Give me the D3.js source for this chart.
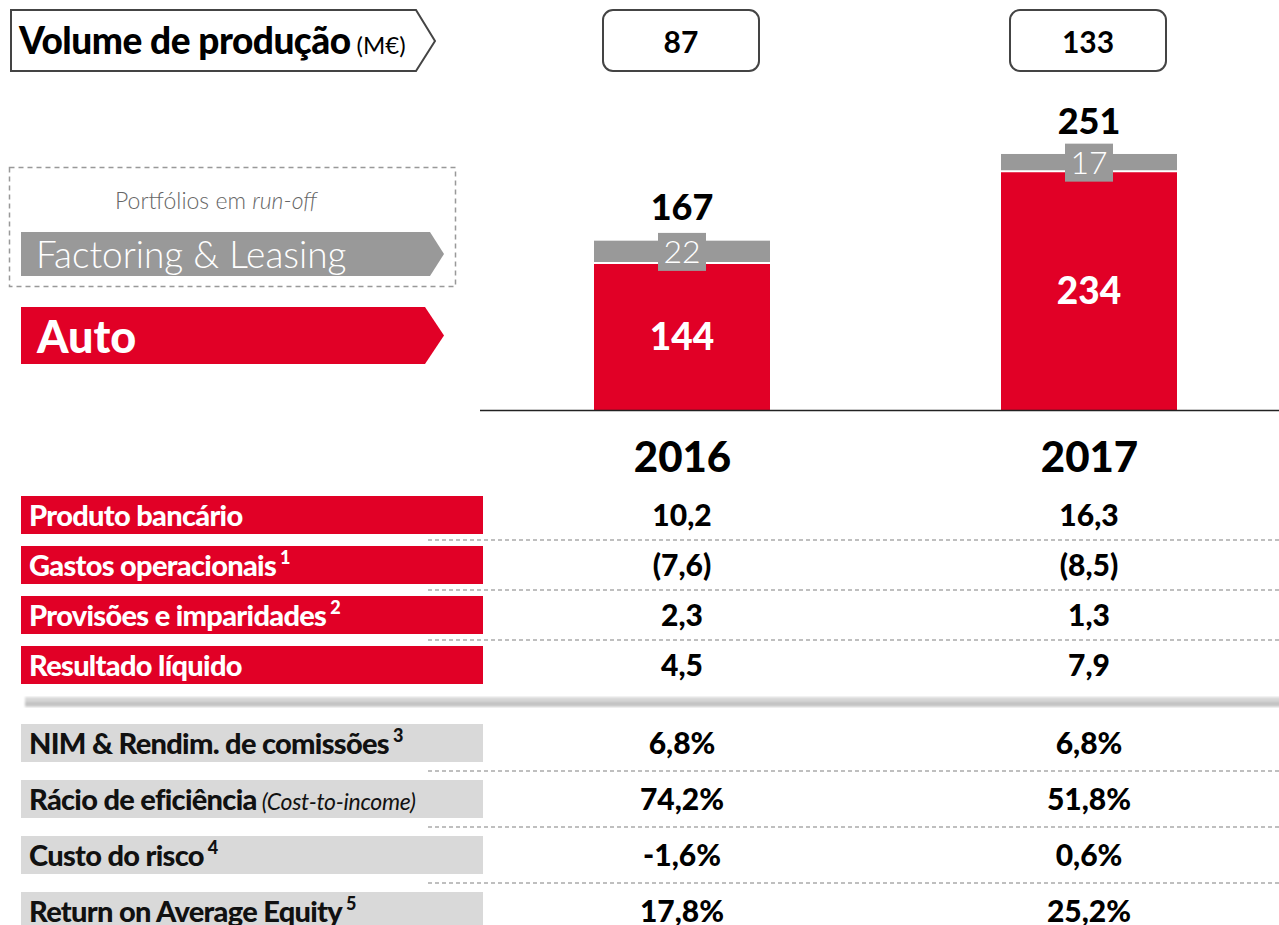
<!DOCTYPE html>
<html>
<head>
<meta charset="utf-8">
<script src="https://cdn.jsdelivr.net/npm/d3@7"></script>
<style>
  body { margin: 0; background: #fff; }
  svg { display: block; font-family: Lato, "Liberation Sans", sans-serif; }
</style>
</head>
<body>
<script>
// data
var years = ["2016", "2017"];
var volumeProducao = [87, 133];
var autoValues = [144, 234];
var factoringValues = [22, 17];
var totals = [167, 251];

var finLabels = ["Produto bancário", "Gastos operacionais", "Provisões e imparidades", "Resultado líquido"];
var finSups = ["", "1", "2", ""];
var fin2016 = ["10,2", "(7,6)", "2,3", "4,5"];
var fin2017 = ["16,3", "(8,5)", "1,3", "7,9"];

var ratioLabels = ["NIM & Rendim. de comissões", "Rácio de eficiência", "Custo do risco", "Return on Average Equity"];
var ratioNotes = ["", "(Cost-to-income)", "", ""];
var ratioSups = ["3", "", "4", "5"];
var ratio2016 = ["6,8%", "74,2%", "-1,6%", "17,8%"];
var ratio2017 = ["6,8%", "51,8%", "0,6%", "25,2%"];

// set up dimensions
var width = 1279,
    height = 925;

var red = "#e10026",
    grey = "#999999",
    lightGrey = "#d9d9d9";

var svg = d3.select("body")
            .append("svg")
            .attr("width", width)
            .attr("height", height);

var defs = svg.append("defs");
var grad = defs.append("linearGradient")
    .attr("id", "sepGrad")
    .attr("x1", 0).attr("y1", 0).attr("x2", 0).attr("y2", 1);
grad.append("stop").attr("offset", "0%").attr("stop-color", "#dadada");
grad.append("stop").attr("offset", "45%").attr("stop-color", "#d4d4d4");
grad.append("stop").attr("offset", "60%").attr("stop-color", "#bdbdbd");
grad.append("stop").attr("offset", "100%").attr("stop-color", "#d0d0d0");
defs.append("filter").attr("id", "blur")
    .append("feGaussianBlur").attr("stdDeviation", 1);

// scales
var x = d3.scalePoint()
    .domain(years)
    .range([682, 1089]);
var barWidth = 176;

var y = d3.scaleLinear()
    .domain([0, 250])
    .range([410, 155]);

// header arrow
var header = svg.append("g");
header.append("path")
    .attr("d", "M11,10 L416,10 L435,41 L416,71 L11,71 Z")
    .attr("fill", "#fff")
    .attr("stroke", "#444")
    .attr("stroke-width", 2);
var ht = header.append("text")
    .attr("x", 19)
    .attr("y", 54)
    .attr("fill", "#000");
ht.append("tspan")
    .attr("font-size", 37)
    .attr("font-weight", 900)
    .attr("letter-spacing", -0.5)
    .text("Volume de produção");
ht.append("tspan")
    .attr("font-size", 24)
    .attr("dx", 6)
    .text("(M€)");

// volume boxes
var vol = svg.append("g").selectAll("g")
    .data(years)
    .enter()
    .append("g");
vol.append("rect")
    .attr("x", function(d) { return x(d) - 79; })
    .attr("y", 10)
    .attr("width", 156)
    .attr("height", 61)
    .attr("rx", 10)
    .attr("fill", "#fff")
    .attr("stroke", "#444")
    .attr("stroke-width", 2);
vol.append("text")
    .attr("x", function(d) { return x(d) - 1; })
    .attr("y", 53)
    .attr("text-anchor", "middle")
    .attr("font-size", 30)
    .attr("font-weight", 700)
    .text(function(d, i) { return volumeProducao[i]; });

// legend
var legend = svg.append("g");
legend.append("rect")
    .attr("x", 9.5).attr("y", 167.5)
    .attr("width", 446).attr("height", 119)
    .attr("fill", "none")
    .attr("stroke", "#999")
    .attr("stroke-width", 1.5)
    .attr("stroke-dasharray", "5,4");
var lt = legend.append("text")
    .attr("x", 216).attr("y", 209)
    .attr("text-anchor", "middle")
    .attr("font-size", 23)
    .attr("font-weight", 300)
    .attr("fill", "#666");
lt.append("tspan").text("Portfólios em ");
lt.append("tspan").attr("font-style", "italic").text("run-off");

legend.append("path")
    .attr("d", "M21,232 L430,232 L444,254 L430,276 L21,276 Z")
    .attr("fill", grey);
legend.append("text")
    .attr("x", 36).attr("y", 268)
    .attr("font-size", 37)
    .attr("font-weight", 300)
    .attr("fill", "#fff")
    .text("Factoring & Leasing");

legend.append("path")
    .attr("d", "M21,307 L425,307 L444,335.5 L425,364 L21,364 Z")
    .attr("fill", red);
legend.append("text")
    .attr("x", 37).attr("y", 353)
    .attr("font-size", 45)
    .attr("font-weight", 900)
    .attr("fill", "#fff")
    .text("Auto");

// stacked bars
var barData = years.map(function(yr, i) {
  return { year: yr, auto: autoValues[i], factoring: factoringValues[i], total: totals[i] };
});
var stack = d3.stack().keys(["auto", "factoring"]);
var series = stack(barData);
var colors = { auto: red, factoring: grey };

var bars = svg.append("g");
bars.selectAll("g")
    .data(series)
    .enter()
    .append("g")
    .attr("fill", function(s) { return colors[s.key]; })
    .selectAll("rect")
    .data(function(s) { return s; })
    .enter()
    .append("rect")
    .attr("x", function(d) { return x(d.data.year) - barWidth / 2; })
    .attr("y", function(d) { return y(d[1]); })
    .attr("width", barWidth)
    .attr("height", function(d) { return y(d[0]) - y(d[1]); });

// white split between segments
bars.selectAll(".split")
    .data(series[0])
    .enter()
    .append("line")
    .attr("x1", function(d) { return x(d.data.year) - barWidth / 2; })
    .attr("x2", function(d) { return x(d.data.year) + barWidth / 2; })
    .attr("y1", function(d) { return y(d[1]); })
    .attr("y2", function(d) { return y(d[1]); })
    .attr("stroke", "#fff")
    .attr("stroke-width", 2);

// factoring labels in grey box
var fl = bars.selectAll(".flab")
    .data(series[1])
    .enter()
    .append("g");
fl.append("rect")
    .attr("x", function(d) { return x(d.data.year) - 24; })
    .attr("y", function(d) { return (y(d[0]) + y(d[1])) / 2 - 19; })
    .attr("width", 48)
    .attr("height", 38)
    .attr("fill", grey);
fl.append("text")
    .attr("x", function(d) { return x(d.data.year); })
    .attr("y", function(d) { return (y(d[0]) + y(d[1])) / 2 + 11; })
    .attr("text-anchor", "middle")
    .attr("font-size", 32)
    .attr("font-weight", 300)
    .attr("fill", "#fff")
    .text(function(d) { return d.data.factoring; });

// auto labels
bars.selectAll(".alab")
    .data(series[0])
    .enter()
    .append("text")
    .attr("x", function(d) { return x(d.data.year); })
    .attr("y", function(d) { return (y(d[0]) + y(d[1])) / 2 + 13; })
    .attr("text-anchor", "middle")
    .attr("font-size", 37)
    .attr("font-weight", 900)
    .attr("fill", "#fff")
    .text(function(d) { return d.data.auto; });

// total labels
bars.selectAll(".tlab")
    .data(barData)
    .enter()
    .append("text")
    .attr("x", function(d) { return x(d.year); })
    .attr("y", function(d) { return y(d.total) - 20; })
    .attr("text-anchor", "middle")
    .attr("font-size", 36)
    .attr("font-weight", 900)
    .attr("fill", "#000")
    .text(function(d) { return d.total; });

// baseline axis
var xAxis = d3.axisBottom(x).tickSize(0).tickPadding(32);
var axisG = svg.append("g")
    .attr("transform", "translate(0," + y(0) + ")")
    .call(xAxis);
axisG.select(".domain")
    .attr("d", "M480,0.5H1279")
    .attr("stroke", "#222")
    .attr("stroke-width", 1.5);
axisG.selectAll(".tick text")
    .attr("font-family", "Lato, sans-serif")
    .attr("font-size", 42)
    .attr("font-weight", 900)
    .attr("fill", "#000")
    .attr("dy", "0.71em");

// table helper
function drawRows(top, step, labels, sups, notes, v16, v17, boxFill, textFill) {
  var g = svg.append("g");
  var row = g.selectAll("g")
      .data(labels)
      .enter()
      .append("g")
      .attr("transform", function(d, i) { return "translate(0," + (top + i * step) + ")"; });
  row.append("rect")
      .attr("x", 21).attr("y", 0)
      .attr("width", 462).attr("height", 38)
      .attr("fill", boxFill);
  var t = row.append("text")
      .attr("x", 29).attr("y", 30)
      .attr("font-size", 29)
      .attr("font-weight", 900)
      .attr("letter-spacing", -0.7)
      .attr("fill", textFill);
  t.append("tspan").text(function(d) { return d; });
  t.append("tspan")
      .attr("font-weight", 400)
      .attr("font-style", "italic")
      .attr("font-size", 23)
      .attr("letter-spacing", -0.3)
      .attr("dx", 5)
      .text(function(d, i) { return notes ? notes[i] : ""; });
  t.append("tspan")
      .attr("font-size", 18)
      .attr("letter-spacing", 0)
      .attr("dx", 4)
      .attr("dy", -12)
      .text(function(d, i) { return sups[i]; });
  row.append("text")
      .attr("x", x(years[0]))
      .attr("y", 30)
      .attr("text-anchor", "middle")
      .attr("font-size", 30)
      .attr("font-weight", 900)
      .text(function(d, i) { return v16[i]; });
  row.append("text")
      .attr("x", x(years[1]))
      .attr("y", 30)
      .attr("text-anchor", "middle")
      .attr("font-size", 30)
      .attr("font-weight", 900)
      .text(function(d, i) { return v17[i]; });
  // dashed separators between rows
  g.selectAll("line")
      .data(labels.slice(1))
      .enter()
      .append("line")
      .attr("x1", 428).attr("x2", 1279)
      .attr("y1", function(d, i) { return top + (i + 1) * step - (step - 38) / 2; })
      .attr("y2", function(d, i) { return top + (i + 1) * step - (step - 38) / 2; })
      .attr("stroke", "#aaa")
      .attr("stroke-width", 1.5)
      .attr("stroke-dasharray", "4,3");
}

drawRows(496, 50, finLabels, finSups, null, fin2016, fin2017, red, "#fff");

// thick separator
svg.append("rect")
    .attr("x", 25).attr("y", 697)
    .attr("width", 1260).attr("height", 10)
    .attr("fill", "url(#sepGrad)")
    .attr("filter", "url(#blur)");

drawRows(724, 56, ratioLabels, ratioSups, ratioNotes, ratio2016, ratio2017, lightGrey, "#111");
</script>
</body>
</html>
